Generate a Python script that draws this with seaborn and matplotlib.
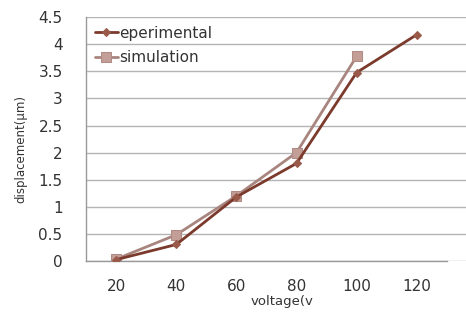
import pandas as pd
import matplotlib.pyplot as plt
import seaborn as sns

# dados
voltagens = ["20", "40", "60", "80", "100", "120"]
experimental = [0.02, 0.30, 1.18, 1.80, 3.48, 4.18]
simulacao = [0.03, 0.48, 1.20, 2.00, 3.78]

df_exp = pd.DataFrame({"pos": range(len(experimental)), "valor": experimental})
df_sim = pd.DataFrame({"pos": range(len(simulacao)), "valor": simulacao})

sns.set_style("white")
plt.rcParams["font.family"] = ["DejaVu Sans"]

fig, ax = plt.subplots(figsize=(4.66, 3.16), dpi=100)
fig.subplots_adjust(left=0.185, right=1.0, top=0.945, bottom=0.175)

sns.lineplot(
    data=df_exp, x="pos", y="valor", ax=ax,
    color="#7b3a2c", linewidth=2.0,
    marker="D", markersize=4.5, markerfacecolor="#9a5a4a",
    markeredgecolor="#9a5a4a", label="eperimental", zorder=3
)
sns.lineplot(
    data=df_sim, x="pos", y="valor", ax=ax,
    color="#a8857f", linewidth=2.0,
    marker="s", markersize=6.5, markerfacecolor="#c29e97",
    markeredgecolor="#b08a84", label="simulation", zorder=2
)

ax.set_ylim(0, 4.5)
ax.set_xlim(-0.5, 5.82)
ax.set_yticks([i * 0.5 for i in range(10)])
ax.set_yticklabels(["0", "0.5", "1", "1.5", "2", "2.5", "3", "3.5", "4", "4.5"])
ax.set_xticks(range(len(voltagens)))
ax.set_xticklabels(voltagens)
ax.set_xticks([i - 0.5 for i in range(len(voltagens) + 1)], minor=True)
ax.tick_params(axis="x", which="major", length=0, pad=13, labelsize=11, colors="#333333")
ax.tick_params(axis="x", which="minor", length=5, color="#999999", direction="out")
ax.tick_params(axis="y", length=5, color="#999999", direction="out", pad=12,
               labelsize=11, colors="#333333")
ax.tick_params(axis="y", color="#999999")

ax.grid(axis="y", color="#b4b4b4", linewidth=1.0)
ax.set_axisbelow(True)
for lado in ["top", "right"]:
    ax.spines[lado].set_visible(False)
for lado in ["left", "bottom"]:
    ax.spines[lado].set_color("#999999")
    ax.spines[lado].set_linewidth(1.0)
ax.spines["bottom"].set_bounds(-0.5, 5.5)

ax.set_xlabel("voltage(v", fontsize=9.5, color="#333333")
ax.set_ylabel("displacement(μm)", fontsize=8.5, color="#333333")
ax.xaxis.set_label_coords(0.516, -0.14)
ax.yaxis.set_label_coords(-0.155, 0.46)

ax.legend(loc="upper left", frameon=False, fontsize=11,
          bbox_to_anchor=(0.0, 1.0), handlelength=1.5, handletextpad=0.1,
          labelspacing=0.6, borderaxespad=0.15, labelcolor="#333333")

plt.savefig("out.png", dpi=100)
